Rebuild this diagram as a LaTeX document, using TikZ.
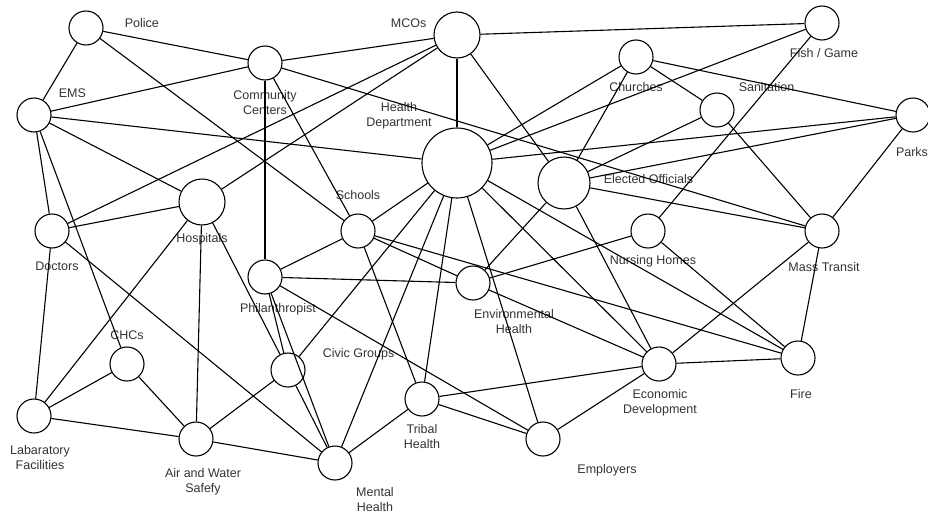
\documentclass[tikz,border=0pt]{standalone}
\usepackage{fontspec}
\setmainfont{Liberation Sans}
\usetikzlibrary{positioning}

\begin{document}
\begin{tikzpicture}[
        x=1pt, y=-1pt,
        org/.style={circle, draw, line width=1.1pt, minimum size=34pt, inner sep=0pt},
        midorg/.style={org, minimum size=46pt},
        bigorg/.style={org, minimum size=70pt},
        lbl/.style={font=\fontsize{12.5}{15}\selectfont, text=black!80, inner sep=0pt, align=center},
        line/.style={-, line width=1.1pt}
    ]
        \useasboundingbox (0,0) rectangle (928,514);

        % Organisations
        \node[org] (police) at (86,28) {};
        \node[org] (ems) at (34,115) {};
        \node[org] (cc) at (265,63) {};
        \node[midorg] (mco) at (457,35) {};
        \node[bigorg] (hd) at (457,163) {};
        \node[org] (fish) at (822,23) {};
        \node[org] (church) at (636,57) {};
        \node[org] (sanit) at (717,110) {};
        \node[org] (parks) at (913,115) {};
        \node[org, minimum size=52pt] (eo) at (564,183) {};
        \node[org] (schools) at (358,231) {};
        \node[midorg] (hosp) at (202,202) {};
        \node[org] (doctors) at (52,231) {};
        \node[org] (nh) at (648,231) {};
        \node[org] (mt) at (822,231) {};
        \node[org] (phil) at (265,277) {};
        \node[org] (envh) at (473,283) {};
        \node[org] (chc) at (127,364) {};
        \node[org] (civic) at (288,370) {};
        \node[org] (fire) at (798,358) {};
        \node[org] (econ) at (659,364) {};
        \node[org] (tribal) at (422,399) {};
        \node[org] (lab) at (34,416) {};
        \node[org] (air) at (196,439) {};
        \node[org] (empl) at (543,439) {};
        \node[org] (mental) at (335,463) {};

        % Labels
        \node[lbl, right=21pt of police, yshift=5pt] (policelbl) {Police};
        \node[lbl, right=7pt of ems, yshift=22pt] (emslbl) {EMS};
        \node[lbl, below=9.5pt of cc] (cclbl) {Community\\Centers};
        \node[lbl, left=7pt of mco, yshift=12pt] (mcolbl) {MCOs};
        \node[lbl, above=-2pt of hd, xshift=-58pt] (hdlbl) {Health\\Department};
        \node[lbl, below=8pt of church] (churchlbl) {Churches};
        \node[lbl, right=4pt of sanit, yshift=23pt] (sanitlbl) {Sanitation};
        \node[lbl, below=7.5pt of fish, xshift=2pt] (fishlbl) {Fish / Game};
        \node[lbl, below=14.5pt of parks, xshift=-1pt] (parkslbl) {Parks};
        \node[lbl, right=13pt of eo, yshift=4pt] (eolbl) {Elected Officials};
        \node[lbl, above=13.5pt of schools] (schoolslbl) {Schools};
        \node[lbl, below=7.5pt of hosp] (hosplbl) {Hospitals};
        \node[lbl, below=13.5pt of doctors, xshift=5pt] (doctorslbl) {Doctors};
        \node[lbl, below=6.5pt of nh, xshift=5pt] (nhlbl) {Nursing Homes};
        \node[lbl, below=13.5pt of mt, xshift=2pt] (mtlbl) {Mass Transit};
        \node[lbl, below=8.5pt of phil, xshift=13pt] (phillbl) {Philanthropist};
        \node[lbl, below=8.5pt of envh, xshift=41pt] (envhlbl) {Environmental\\Health};
        \node[lbl, above=6.5pt of chc] (chclbl) {CHCs};
        \node[lbl, right=17pt of civic, yshift=16pt] (civiclbl) {Civic Groups};
        \node[lbl, below=13.5pt of fire, xshift=3pt] (firelbl) {Fire};
        \node[lbl, below=7.5pt of econ, xshift=1pt] (econlbl) {Economic\\Development};
        \node[lbl, below=7.5pt of tribal] (triballbl) {Tribal\\Health};
        \node[lbl, below=11.5pt of lab, xshift=6pt] (lablbl) {Labaratory\\Facilities};
        \node[lbl, below=11.5pt of air, xshift=7pt] (airlbl) {Air and Water\\Safefy};
        \node[lbl, below=7.5pt of empl, xshift=64pt] (empllbl) {Employers};
        \node[lbl, below=6.5pt of mental, xshift=40pt] (mentallbl) {Mental\\Health};

        % Ties
        \draw[line] (cc) -- (police) -- (ems) -- (cc) -- (mco) -- (fish);
        \draw[line] (police) -- (schools);
        \draw[line] (ems) -- (hd);
        \draw[line] (ems) -- (hosp);
        \draw[line] (ems) -- (chc);
        \draw[line] (ems) -- (doctors) -- (lab);
        \draw[line] (cc) -- (phil);
        \draw[line] (cc) -- (schools);
        \draw[line] (cc) -- (mt);
        \draw[line] (mco) -- (doctors);
        \draw[line] (mco) -- (hosp);
        \draw[line] (mco) -- (hd);
        \draw[line] (mco) -- (eo);
        \draw[line] (hd) -- (church);
        \draw[line] (hd) -- (fish);
        \draw[line] (hd) -- (parks);
        \draw[line] (hd) -- (schools);
        \draw[line] (hd) -- (mental);
        \draw[line] (hd) -- (tribal);
        \draw[line] (hd) -- (civic);
        \draw[line] (hd) -- (empl);
        \draw[line] (hd) -- (econ);
        \draw[line] (hd) -- (fire);
        \draw[line] (church) -- (eo);
        \draw[line] (church) -- (sanit) -- (mt);
        \draw[line] (church) -- (parks);
        \draw[line] (sanit) -- (eo);
        \draw[line] (eo) -- (parks) -- (mt);
        \draw[line] (eo) -- (mt);
        \draw[line] (eo) -- (envh);
        \draw[line] (eo) -- (econ);
        \draw[line] (fish) -- (nh) -- (envh);
        \draw[line] (nh) -- (fire);
        \draw[line] (mt) -- (fire) -- (econ) -- (mt);
        \draw[line] (econ) -- (tribal);
        \draw[line] (econ) -- (empl) -- (tribal) -- (mental);
        \draw[line] (schools) -- (phil) -- (envh);
        \draw[line] (schools) -- (tribal);
        \draw[line] (schools) -- (envh) -- (econ);
        \draw[line] (schools) -- (fire);
        \draw[line] (phil) -- (empl);
        \draw[line] (phil) -- (mental);
        \draw[line] (phil) -- (civic);
        \draw[line] (hosp) -- (lab);
        \draw[line] (hosp) -- (air);
        \draw[line] (hosp) -- (civic);
        \draw[line] (hosp) -- (doctors) -- (mental);
        \draw[line] (chc) -- (lab) -- (air) -- (chc);
        \draw[line] (air) -- (civic) -- (mental) -- (air);
    \end{tikzpicture}
\end{document}
